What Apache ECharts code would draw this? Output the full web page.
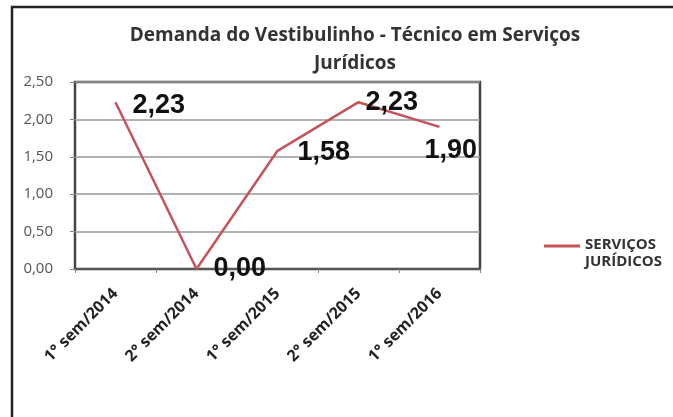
<!DOCTYPE html>
<html>
<head>
<meta charset="utf-8">
<script src="https://cdn.jsdelivr.net/npm/echarts@6/dist/echarts.min.js"></script>
<style>
  html, body { margin: 0; padding: 0; background: #fff; }
  #chart { width: 673px; height: 417px; }
</style>
</head>
<body>
<div id="chart"></div>
<script>
// dados
const semestres = ["1° sem/2014", "2° sem/2014", "1° sem/2015", "2° sem/2015", "1° sem/2016"];
const demanda = [2.23, 0.00, 1.58, 2.23, 1.90];
const nomeSerie = "SERVIÇOS\nJURÍDICOS";
const yMin = 0, yMax = 2.5, yStep = 0.5;

// deslocamento de cada rotulo (como no Excel)
const labelShift = [[17, 3], [17, 0], [20, 2], [7, 0], [-15, 24]];

function virgula(v) { return v.toFixed(2).replace(".", ","); }

const chart = echarts.init(document.getElementById('chart'), null, { renderer: 'canvas' });

const pontos = demanda.map(function (v, i) {
    return { value: v, label: { offset: labelShift[i] } };
});

chart.setOption({
    backgroundColor: '#fff',
    animation: false,
    title: {
        text: "Demanda do Vestibulinho - Técnico em Serviços\nJurídicos",
        left: 350,
        top: 17,
        textAlign: 'center',
        textStyle: {
            fontFamily: 'Open Sans', fontWeight: 700, fontSize: 19,
            color: '#333', lineHeight: 28
        }
    },
    legend: {
        orient: 'vertical',
        left: 539,
        top: 231,
        itemWidth: 36,
        itemHeight: 17,
        itemGap: 4,
        // barra no topo do icone, alinhada com a primeira linha do texto
        icon: 'path://M0,0H36V3H0Z M0,17H0.01V17.01H0Z',
        itemStyle: { color: '#C5545A' },
        textStyle: {
            fontFamily: 'Open Sans', fontWeight: 700, fontSize: 15,
            color: '#333', lineHeight: 17
        },
        data: [nomeSerie]
    },
    grid: {
        left: 75, right: 193, top: 82, bottom: 148,
        show: true, borderColor: '#444', borderWidth: 2.5
    },
    xAxis: {
        type: 'category',
        data: semestres,
        boundaryGap: true,
        axisLine: { lineStyle: { color: '#555', width: 2 } },
        axisTick: { show: true, length: 4, lineStyle: { color: '#888' } },
        axisLabel: {
            rotate: 45, margin: 22, fontFamily: 'Open Sans', fontWeight: 700,
            fontSize: 16, color: '#222'
        }
    },
    yAxis: {
        type: 'value',
        min: yMin, max: yMax, interval: yStep,
        axisLine: { show: false },
        axisTick: { show: true, length: 5, lineStyle: { color: '#888' } },
        axisLabel: {
            formatter: virgula, fontFamily: 'Open Sans', fontSize: 15,
            color: '#555', margin: 22
        },
        splitLine: { lineStyle: { color: '#999', width: 1.5 } }
    },
    series: [{
        name: nomeSerie,
        type: 'line',
        data: pontos,
        symbol: 'circle',
        symbolSize: 0.1,
        lineStyle: { color: '#C5545A', width: 2.5 },
        itemStyle: { color: '#C5545A' },
        label: {
            show: true, position: 'right', distance: 0,
            formatter: function (p) { return virgula(p.value); },
            fontFamily: 'Liberation Sans', fontWeight: 'bold', fontSize: 27,
            color: '#111'
        }
    }],
    graphic: [{
        type: 'rect',
        shape: { x: 12, y: 7, width: 720, height: 450 },
        style: { fill: null, stroke: '#222', lineWidth: 2.5 },
        silent: true
    }]
});

window.addEventListener('resize', function () { chart.resize(); });
</script>
</body>
</html>
